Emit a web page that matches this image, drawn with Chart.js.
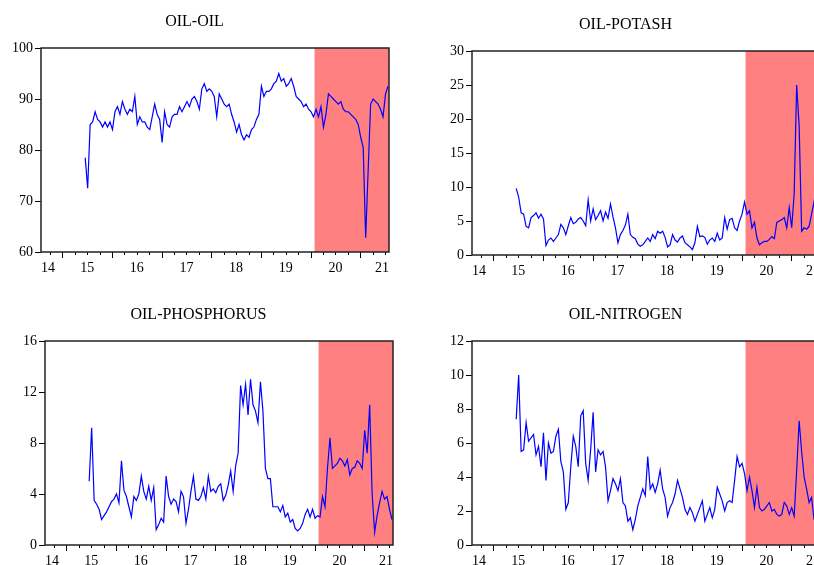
<!DOCTYPE html>
<html>
<head>
<meta charset="utf-8">
<script src="https://cdn.jsdelivr.net/npm/chart.js@4.4.0/dist/chart.umd.min.js"></script>
<style>
  html, body { margin: 0; padding: 0; background: #fff; }
  body { width: 814px; height: 565px; overflow: hidden; position: relative; }
  canvas { position: absolute; }
  #c1 { left: 0px; top: 0px; }
  #c2 { left: 431px; top: 3px; }
  #c3 { left: 4px; top: 293px; }
  #c4 { left: 431px; top: 293px; }
</style>
</head>
<body>
<canvas id="c1" width="430" height="282"></canvas>
<canvas id="c2" width="430" height="282"></canvas>
<canvas id="c3" width="430" height="282"></canvas>
<canvas id="c4" width="430" height="282"></canvas>
<script>
// time axis (decimal years), one observation every 0.05 year
const X_MIN = 2014.57;
const X_MAX = 2021.58;
const DATA_START = 2015.46;
const DATA_STEP = 0.05;
const SHADE_START = 2020.08;

const yearTicks = [2015, 2016, 2017, 2018, 2019, 2020, 2021];
const xLabelValues = [X_MIN, 2015.5, 2016.5, 2017.5, 2018.5, 2019.5, 2020.5, X_MAX];
const xLabelText = ['14', '15', '16', '17', '18', '19', '20', '21'];

const oilOil = [
  78.5, 72.5, 85, 85.5, 87.5, 86, 85.5, 84.5, 85.5, 84.5,
  85.5, 84, 87.5, 88.5, 87, 89.5, 88, 87, 88, 87.5,
  90.5, 85, 86.5, 85.5, 85.5, 84.5, 84, 86.5, 89, 87,
  86, 81.5, 87.5, 85, 84.5, 86.5, 87, 87, 88.5, 87.5,
  88.5, 89.5, 88.5, 90, 90.5, 89.5, 88, 92, 93, 91.5,
  92, 91.5, 90.5, 86.5, 91, 90, 89, 88.5, 89, 87,
  85.5, 83.5, 85, 83, 82, 83, 82.5, 84, 84.5, 86,
  87, 92.5, 90.5, 91.5, 91.5, 92, 93, 93.5, 95, 93.5,
  94, 92.5, 93, 94, 92.5, 90.5, 90, 89.5, 88.5, 89,
  88, 87.5, 86.5, 88, 86.5, 88.5, 84.5, 87, 91, 90.5,
  90, 89.5, 89, 89.5, 88, 87.5, 87.5, 87, 86.5, 86,
  85, 82.5, 80.5, 62.8, 76, 89, 90, 89.5, 89, 88,
  86.5, 91, 92.5
];

const oilPotash = [
  9.8, 8.5, 6.2, 6, 4.2, 4, 5.5, 5.8, 6.2, 5.4,
  6, 5.3, 1.4, 2.2, 2.5, 2, 2.5, 3, 4.5, 4,
  3, 4.3, 5.5, 4.6, 4.8, 5.3, 5.5, 5, 4.3, 8.1,
  5, 6.8, 5.2, 5.8, 6.5, 5, 6.3, 5.4, 7.5, 5.6,
  4, 1.8, 3, 3.6, 4.4, 6, 3, 2.6, 2.4, 1.6,
  1.3, 1.5, 2, 2.5, 2, 3, 2.4, 3.5, 3.2, 3.5,
  2.6, 1.2, 1.5, 3, 2.2, 1.9, 2.5, 2.8, 1.8, 1.5,
  1.2, 0.8, 1.8, 4.2, 2.7, 2.8, 2.6, 1.6, 2.2, 2.5,
  2, 3.2, 2.2, 2.5, 5.5, 3.8, 5.2, 5.4, 4, 3.6,
  5, 6, 7.8, 6, 6.5, 4, 4.8, 2.5, 1.5, 1.8,
  2, 2, 2.3, 2.7, 2.4, 4.8, 5, 5.2, 5.5, 4,
  7, 4, 9, 25, 19, 3.5, 4, 3.8, 4.2, 6,
  7.8, 4.5, 5
];

const oilPhosphorus = [
  5, 9.2, 3.5, 3.2, 2.8, 2, 2.3, 2.6, 3, 3.4,
  3.6, 4, 3.3, 6.6, 4.3, 3.8, 3, 2.2, 3.8, 3.5,
  4, 5.4, 4.2, 3.6, 4.6, 3.5, 4.5, 1.2, 1.6, 2.1,
  1.8, 5.4, 3.8, 3.2, 3.6, 3.4, 2.6, 4.2, 3.8, 1.7,
  2.8, 4.2, 5.4, 3.6, 3.5, 3.8, 4.5, 3.6, 5.4, 4.2,
  4.4, 4.1, 4.6, 4.8, 3.5, 3.9, 4.7, 5.8, 4.2, 6.2,
  7.2, 12.5, 11, 12.6, 10.2, 13, 11, 10.5, 9.6, 12.8,
  10.5, 6, 5.2, 5.2, 3, 3, 3, 2.6, 3.1, 2.2,
  2.5, 1.8, 2, 1.3, 1.1, 1.3, 1.7, 2.4, 2.8, 2.2,
  2.8, 2.1, 2.3, 2.2, 3.8, 3, 6, 8.4, 6, 6.2,
  6.4, 6.8, 6.6, 6.2, 6.7, 5.5, 6, 6.1, 6.6, 6.4,
  6, 9, 7.2, 11, 4, 1, 2.3, 3.3, 4.2, 3.6,
  3.8, 2.8, 2
];

const oilNitrogen = [
  7.4, 10, 5.5, 5.6, 7.2, 6.1, 6.3, 6.5, 5.3, 5.8,
  4.6, 6.6, 3.8, 6, 5.4, 5.5, 6.4, 6.8, 4.9, 4.3,
  2.1, 2.5, 4.6, 6.4, 5.8, 4.6, 7.6, 7.9, 4.8, 3.8,
  5.6, 7.8, 4.3, 5.6, 5.3, 5.5, 4.6, 2.6, 3.2, 3.9,
  3.6, 3.2, 3.9, 2.5, 2.3, 1.4, 1.6, 0.9, 1.5, 2.3,
  2.8, 3.3, 2.9, 5.2, 3.3, 3.6, 3.1, 3.6, 4.4, 3.3,
  2.8, 1.7, 2.2, 2.5, 3, 3.8, 3.3, 2.8, 2.1, 1.8,
  2.2, 1.9, 1.4, 1.8, 2.2, 2.6, 1.4, 1.8, 2.2, 1.6,
  2.1, 3.4, 3, 2.6, 2, 2.5, 2.6, 2.5, 3.8, 5.2,
  4.6, 4.8, 4.2, 3.2, 4, 3.2, 2.2, 3.4, 2.2, 2,
  2.1, 2.3, 2.5, 2, 2.1, 1.8, 1.7, 1.8, 2.5, 2.3,
  1.8, 2.2, 1.7, 4.4, 7.3, 5.5, 4, 3.3, 2.5, 2.8,
  1.5, 1.4, 1.6
];

const panels = [
  { id: 'c1', title: 'OIL-OIL', values: oilOil, yMin: 60, yMax: 100, yStep: 10 },
  { id: 'c2', title: 'OIL-POTASH', values: oilPotash, yMin: 0, yMax: 30, yStep: 5 },
  { id: 'c3', title: 'OIL-PHOSPHORUS', values: oilPhosphorus, yMin: 0, yMax: 16, yStep: 4 },
  { id: 'c4', title: 'OIL-NITROGEN', values: oilNitrogen, yMin: 0, yMax: 12, yStep: 2 }
];

const FONT = "'Liberation Serif', 'Times New Roman', serif";

// red shading, frame and quarterly tick marks
const panelDecor = {
  id: 'panelDecor',
  beforeDatasetsDraw(chart) {
    const { ctx, chartArea: a, scales: { x } } = chart;
    const x0 = x.getPixelForValue(SHADE_START);
    ctx.save();
    ctx.fillStyle = 'rgb(255,128,128)';
    ctx.fillRect(x0, a.top, a.right - x0, a.bottom - a.top);
    ctx.restore();
  },
  afterDraw(chart) {
    const { ctx, chartArea: a, scales: { x } } = chart;
    ctx.save();
    ctx.strokeStyle = '#000';
    ctx.lineWidth = 1;
    yearTicks.concat([2014]).forEach(yr => {
      [0, 0.25, 0.5, 0.75].forEach(q => {
        const v = yr + q;
        if (v < X_MIN || v > X_MAX) return;
        const px = Math.round(x.getPixelForValue(v)) + 0.5;
        const len = q === 0 ? 6 : 3;
        ctx.beginPath();
        ctx.moveTo(px, a.bottom);
        ctx.lineTo(px, a.bottom + len);
        ctx.stroke();
      });
    });
    ctx.lineWidth = 1.5;
    ctx.strokeStyle = '#222';
    ctx.strokeRect(a.left, a.top, a.right - a.left, a.bottom - a.top);
    ctx.restore();
  }
};

panels.forEach(p => {
  const points = p.values.map((v, i) => ({ x: DATA_START + i * DATA_STEP, y: v }));
  const ctx = document.getElementById(p.id).getContext('2d');
  new Chart(ctx, {
    type: 'line',
    data: {
      datasets: [{
        data: points,
        borderColor: '#0000ff',
        borderWidth: 1.2,
        pointRadius: 0,
        tension: 0,
        fill: false
      }]
    },
    options: {
      responsive: false,
      animation: false,
      events: [],
      layout: { padding: { left: 0, right: 41, top: 0, bottom: 0 } },
      plugins: {
        legend: { display: false },
        tooltip: { enabled: false },
        title: {
          display: true,
          text: p.title,
          color: '#000',
          font: { family: FONT, size: 16, weight: 'normal' },
          padding: { top: 12, bottom: 16.8 }
        }
      },
      scales: {
        x: {
          type: 'linear',
          min: X_MIN,
          max: X_MAX,
          grid: { display: false, drawTicks: false },
          border: { display: false },
          afterBuildTicks: scale => {
            scale.ticks = xLabelValues.map(v => ({ value: v }));
          },
          afterFit: scale => { scale.height = 30; },
          ticks: {
            autoSkip: false,
            maxRotation: 0,
            align: 'inner',
            padding: 8,
            color: '#000',
            font: { family: FONT, size: 14 },
            callback: (v, i) => xLabelText[i]
          }
        },
        y: {
          min: p.yMin,
          max: p.yMax,
          grid: { drawOnChartArea: false, tickLength: 6, color: '#000', tickWidth: 1 },
          border: { display: false },
          afterFit: scale => { scale.width = 41; },
          ticks: {
            stepSize: p.yStep,
            padding: 2,
            color: '#000',
            font: { family: FONT, size: 14 }
          }
        }
      }
    },
    plugins: [panelDecor]
  });
});
</script>
</body>
</html>
